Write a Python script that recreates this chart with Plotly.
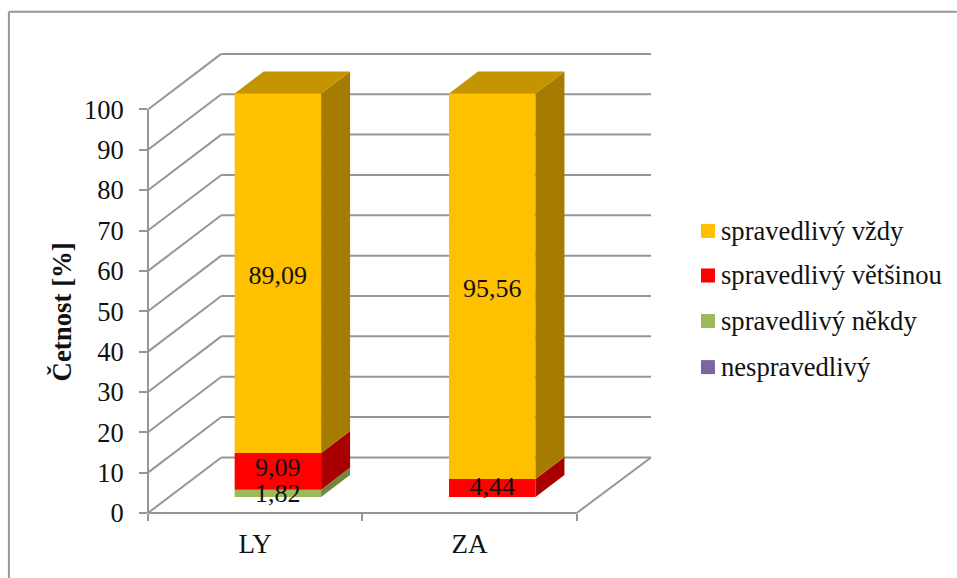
import plotly.graph_objects as go

categories = ["LY", "ZA"]
series_names = ["nespravedlivý", "spravedlivý někdy", "spravedlivý většinou", "spravedlivý vždy"]
nespravedlivy = [0, 0]
nekdy = [1.82, 0]
vetsinou = [9.09, 4.44]
vzdy = [89.09, 95.56]
y_ticks = [0, 10, 20, 30, 40, 50, 60, 70, 80, 90, 100]

front_colors = ["#8064A2", "#9BBB59", "#FF0000", "#FFC000"]
side_colors = ["#5C4776", "#6F8740", "#A80000", "#A67C00"]
top_color = "#C49500"
grid_color = "#969696"
font_family = "Liberation Serif, Times New Roman, serif"
text_color = "#111111"

W, H = 957, 578
# axis box in pixels of the page
X0_PX, X1_PX, Y0_PX, Y1_PX = 147.7, 651.0, 512.7, 53.3
PX_PER_CAT = 214.5
PX_PER_UNIT = 4.03
x_max = (X1_PX - X0_PX) / PX_PER_CAT
y_max = (Y0_PX - Y1_PX) / PX_PER_UNIT

# 3D look: depth of the walls and of the bars, in axis units
wall_dx, wall_dy = 73.3 / PX_PER_CAT, 55.5 / PX_PER_UNIT
bar_dx, bar_dy = 29 / PX_PER_CAT, 22 / PX_PER_UNIT
floor_dy = 16 / PX_PER_UNIT
bar_shift = 22.7 / PX_PER_CAT
bar_width = 86.5 / PX_PER_CAT

# labels do not sit exactly mid segment in the original, shift in pixels (up is minus)
label_nudge = {1.82: 2, 9.09: -2, 89.09: 4, 4.44: 0, 95.56: 4}


def paper_x(v):
    return v / x_max


def paper_y(v):
    return v / y_max


def px_x(p):
    return (p - X0_PX) / (X1_PX - X0_PX)


def px_y(p):
    return (Y0_PX - p) / (Y0_PX - Y1_PX)


def line_shape(x0, y0, x1, y1):
    return dict(type="line", xref="paper", yref="paper", x0=x0, y0=y0, x1=x1, y1=y1,
                layer="below", line=dict(color=grid_color, width=2))


fig = go.Figure()

all_series = [nespravedlivy, nekdy, vetsinou, vzdy]
centers = [i + 0.5 + bar_shift for i in range(len(categories))]
base = [floor_dy] * len(categories)
labels_x, labels_y, labels_text = [], [], []
side_traces = []

for name, values, front, side in zip(series_names, all_series, front_colors, side_colors):
    fig.add_trace(go.Bar(x=centers, y=values, base=list(base), width=bar_width, name=name,
                         marker=dict(color=front, line=dict(width=0)),
                         showlegend=False))
    for i, v in enumerate(values):
        if v == 0:
            continue
        right = centers[i] + bar_width / 2
        side_traces.append(go.Scatter(
            x=[right, right + bar_dx, right + bar_dx, right, right],
            y=[base[i], base[i] + bar_dy, base[i] + v + bar_dy, base[i] + v, base[i]],
            mode="lines", fill="toself", fillcolor=side, line=dict(width=0),
            hoverinfo="skip", showlegend=False))
        labels_x.append(centers[i])
        labels_y.append(base[i] + v / 2 - label_nudge[v] / PX_PER_UNIT)
        labels_text.append(f"{v:.2f}".replace(".", ","))
    base = [b + v for b, v in zip(base, values)]

# top faces of both columns
for i, b in enumerate(base):
    left = centers[i] - bar_width / 2
    right = centers[i] + bar_width / 2
    side_traces.append(go.Scatter(
        x=[left, right, right + bar_dx, left + bar_dx, left],
        y=[b, b, b + bar_dy, b + bar_dy, b],
        mode="lines", fill="toself", fillcolor=top_color, line=dict(width=0),
        hoverinfo="skip", showlegend=False))

fig.add_traces(side_traces)

fig.add_trace(go.Scatter(x=labels_x, y=labels_y, text=labels_text, mode="text",
                         textposition="middle center",
                         textfont=dict(family=font_family, size=26, color=text_color),
                         hoverinfo="skip", showlegend=False))

# walls and floor
shapes = []
for t in y_ticks:
    shapes.append(line_shape(0, paper_y(t), paper_x(wall_dx), paper_y(t + wall_dy)))
    shapes.append(line_shape(paper_x(wall_dx), paper_y(t + wall_dy), 1, paper_y(t + wall_dy)))
shapes.append(line_shape(0, 0, 0, paper_y(100)))
shapes.append(line_shape(0, 0, paper_x(2), 0))
shapes.append(line_shape(paper_x(2), 0, 1, paper_y(wall_dy)))

# outer frame, open on the right and at the bottom
shapes.append(line_shape(px_x(8.5), px_y(12), px_x(8.5), px_y(H)))
shapes.append(line_shape(px_x(8.5), px_y(12), px_x(W), px_y(12)))

# legend
annotations = []
legend_rows = [231, 275.5, 321, 367]
for name, color, row in zip(series_names[::-1], front_colors[::-1], legend_rows):
    shapes.append(dict(type="rect", xref="paper", yref="paper",
                       x0=px_x(701), x1=px_x(715), y0=px_y(row - 7), y1=px_y(row + 7),
                       fillcolor=color, line=dict(width=0)))
    annotations.append(dict(xref="paper", yref="paper", x=px_x(719), y=px_y(row),
                            text=name, showarrow=False, xanchor="left", yanchor="middle",
                            font=dict(family=font_family, size=26.6, color=text_color)))

annotations.append(dict(xref="paper", yref="paper", x=px_x(62), y=px_y(312),
                        text="<b>Četnost [%]</b>", showarrow=False, textangle=-90,
                        xanchor="center", yanchor="middle",
                        font=dict(family=font_family, size=26.8, color=text_color)))

fig.update_layout(
    width=W,
    height=H,
    barmode="overlay",
    plot_bgcolor="white",
    paper_bgcolor="white",
    showlegend=False,
    margin=dict(l=X0_PX, r=W - X1_PX, t=Y1_PX, b=H - Y0_PX, pad=0),
    shapes=shapes,
    annotations=annotations,
    font=dict(family=font_family, size=26, color=text_color),
    xaxis=dict(
        range=[0, x_max],
        tickmode="array",
        tickvals=[0.5, 1.5],
        ticktext=categories,
        ticks="",
        ticklabelstandoff=12,
        tickfont=dict(size=27),
        showgrid=False,
        zeroline=False,
        showline=False,
        minor=dict(tickmode="array", tickvals=[0, 1, 2], ticks="outside", ticklen=7,
                   tickwidth=2, tickcolor=grid_color, showgrid=False),
    ),
    yaxis=dict(
        range=[0, y_max],
        tickmode="array",
        tickvals=y_ticks,
        ticks="outside",
        ticklen=8,
        tickwidth=2,
        tickcolor=grid_color,
        ticklabelstandoff=10,
        tickfont=dict(size=26.5),
        showgrid=False,
        zeroline=False,
        showline=False,
    ),
)

fig.write_html("out.html", config={"displayModeBar": False},
               post_script="document.body.style.margin='0';")
